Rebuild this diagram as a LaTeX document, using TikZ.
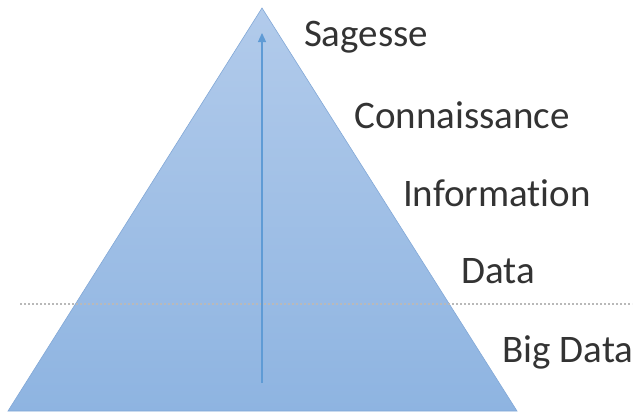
\documentclass[tikz,border=0pt]{standalone}
\usepackage{fontspec}
\setmainfont{Carlito}[Ligatures=NoCommon]
\usetikzlibrary{arrows.meta}
\definecolor{topblue}{RGB}{178,203,235}
\definecolor{botblue}{RGB}{142,180,225}
\definecolor{edgeblue}{RGB}{130,168,215}
\definecolor{arrblue}{RGB}{95,155,213}
\definecolor{dotgray}{RGB}{185,185,185}
\tikzset{
  lbl/.style={font=\fontsize{39}{44}\selectfont, text=black!80, inner sep=0pt, anchor=center},
  pyr/.style={top color=topblue, bottom color=botblue, draw=edgeblue, line width=0.6pt},
  upar/.style={draw=arrblue, line width=1.2pt, -{Triangle[length=9pt,width=8pt]}},
  sep/.style={draw=dotgray, line width=2pt, dash pattern=on 2pt off 2pt}
}
\begin{document}
\begin{tikzpicture}[x=1pt,y=-1pt]
\useasboundingbox (0,0) rectangle (635,413);
\coordinate (apex) at (262,8);
\coordinate (bl) at (8,411);
\coordinate (br) at (517,411);
\path[pyr] (apex) -- (br) -- (bl) -- cycle;
\coordinate (sl) at (20,304);
\coordinate (sr) at (632,304);
\draw[sep] (sl) -- (sr);
\coordinate (abot) at (262,383);
\coordinate (atop) at (262,33);
\draw[upar] (abot) -- (atop);
\node[lbl] (sag) at (366,37) {Sagesse};
\node[lbl] (con) at (462,115) {Connaissance};
\node[lbl] (inf) at (497,193) {Information};
\node[lbl] (dat) at (498,271) {Data};
\node[lbl] (big) at (568,352) {Big Data};
\end{tikzpicture}
\end{document}
